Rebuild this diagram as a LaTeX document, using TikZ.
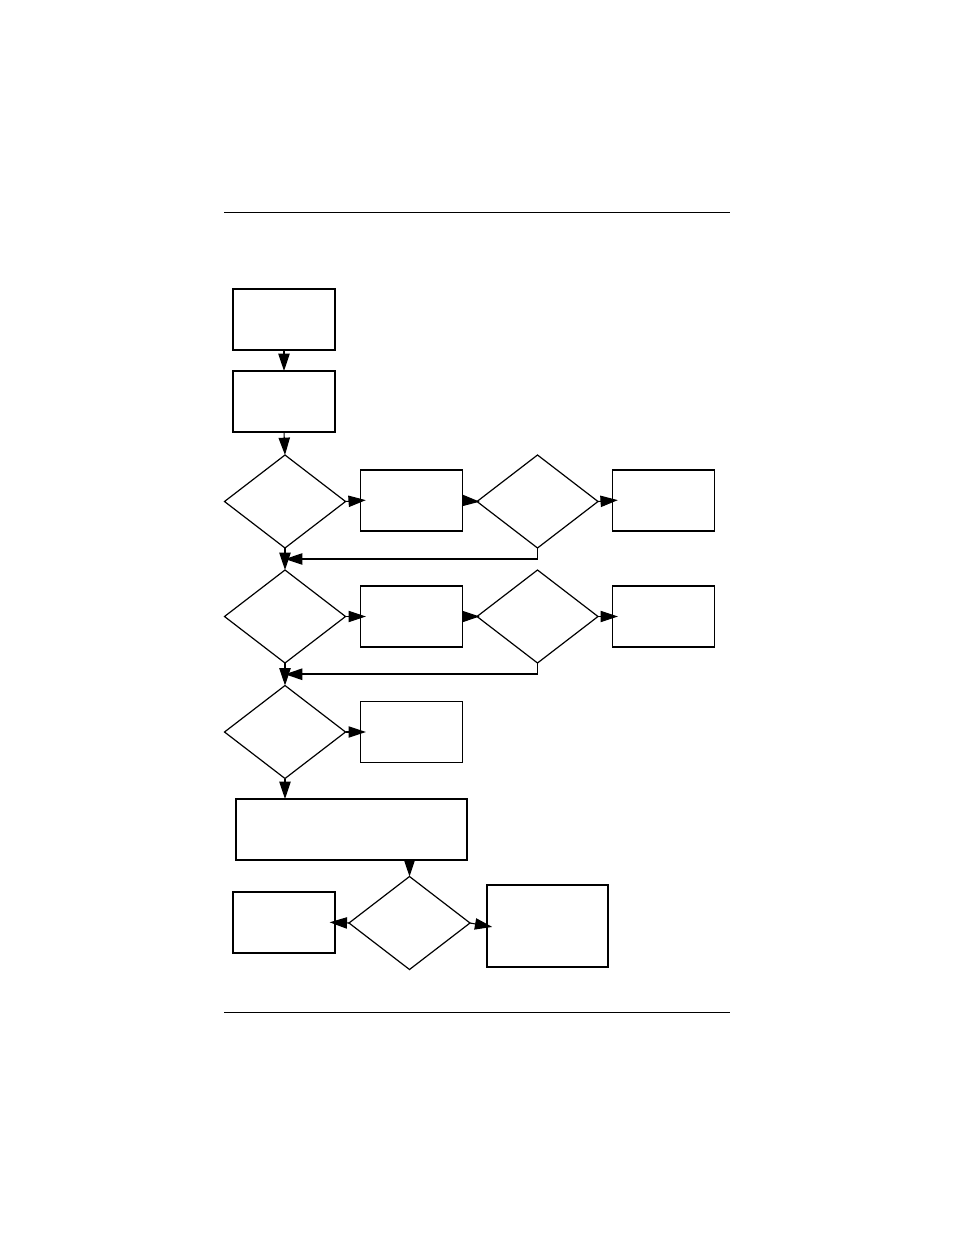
\documentclass[tikz,border=0pt]{standalone}
\usetikzlibrary{shapes.geometric,arrows.meta,calc}
\begin{document}
\begin{tikzpicture}[x=0.75pt,y=-0.75pt,
  box/.style={draw,line width=1.15pt,minimum width=76.5pt,minimum height=45.75pt,inner sep=0pt,outer sep=0pt},
  dia/.style={draw,diamond,line width=0.9pt,minimum width=90.75pt,minimum height=69.75pt,inner sep=0pt,outer sep=0pt},
  arr/.style={line width=0.8pt,-{Triangle[length=13pt,width=8.5pt]}},
  over/.style={shorten >=-4pt},
  rule/.style={line width=0.75pt}]
\useasboundingbox (0,0) rectangle (954,1235);
\coordinate (r1a) at (224,212); \coordinate (r1b) at (730,212);
\coordinate (r2a) at (224,1012); \coordinate (r2b) at (730,1012);
\draw[rule] (r1a) -- (r1b);
\draw[rule] (r2a) -- (r2b);
\node[box] (b1) at (284,319.5) {};
\node[box] (b2) at (284,401.5) {};
\node[dia] (d1) at (285,501.5) {};
\node[box] (b3) at (411.5,500.5) {};
\node[dia] (d2) at (537.5,501.5) {};
\node[box] (b4) at (663.5,500.5) {};
\node[dia] (d3) at (285,616.5) {};
\node[box] (b5) at (411.5,616.5) {};
\node[dia] (d4) at (537.5,616.5) {};
\node[box] (b6) at (663.5,616.5) {};
\node[dia] (d5) at (285,732) {};
\node[box] (b7) at (411.5,732) {};
\node[box,minimum width=173.25pt] (big) at (351.5,829.5) {};
\node[dia] (d6) at (409.5,923) {};
\node[box] (b8) at (284,922.5) {};
\node[box,minimum width=90.75pt,minimum height=61.5pt] (b9) at (547.5,926) {};
\draw[arr] (b1.south) -- (b2.north);
\draw[arr] (b2.south) -- (d1.north);
\draw[arr,over] (d1.east) -- (b3.west);
\draw[arr,shorten >=-2pt] (b3.east) -- (d2.west);
\draw[arr,over] (d2.east) -- (b4.west);
\draw[arr] (d1.south) -- (d3.north);
\coordinate (m1) at ($(d1.south)!0.5!(d3.north)$);
\draw[arr] (d2.south) |- (m1);
\draw[arr,over] (d3.east) -- (b5.west);
\draw[arr,shorten >=-2pt] (b5.east) -- (d4.west);
\draw[arr,over] (d4.east) -- (b6.west);
\draw[arr] (d3.south) -- (d5.north);
\coordinate (m2) at ($(d3.south)!0.5!(d5.north)$);
\draw[arr,line width=1.4pt] (d4.south) |- (m2);
\draw[arr,over] (d5.east) -- (b7.west);
\draw[arr] (d5.south) -- (d5.south |- big.north);
\draw[arr] (d6.north |- big.south) -- (d6.north);
\draw[arr,over] (d6.west) -- (b8.east);
\draw[arr,over] (d6.east) -- (b9.west);
\end{tikzpicture}
\end{document}
